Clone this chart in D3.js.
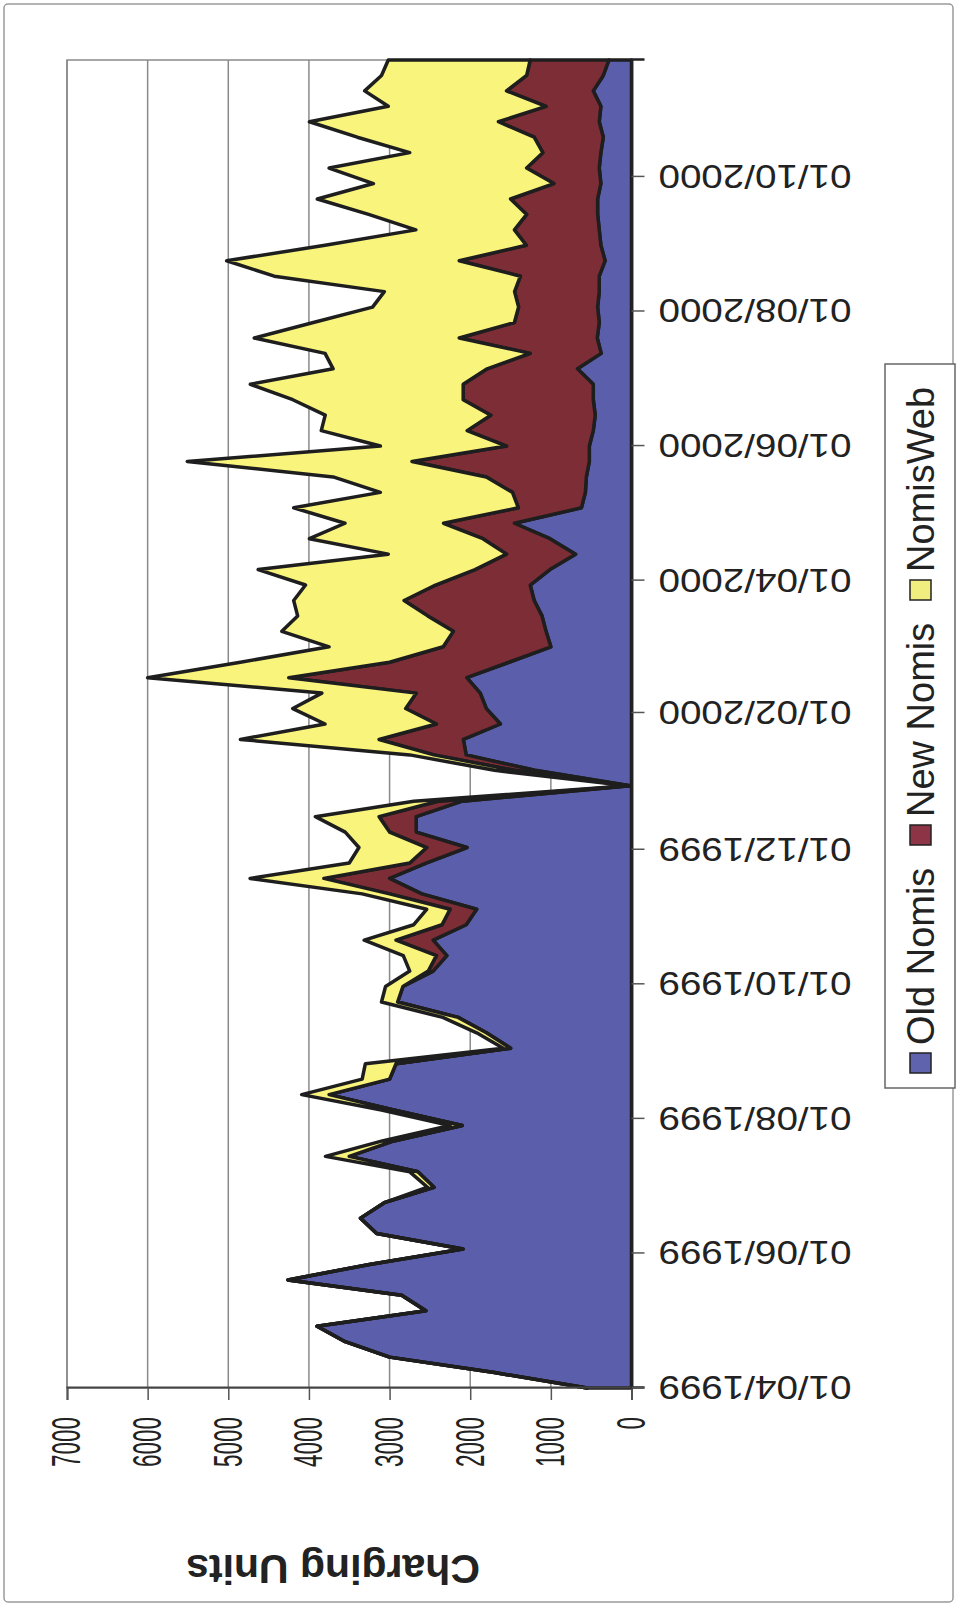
<!DOCTYPE html>
<html><head><meta charset="utf-8">
<script src="https://cdn.jsdelivr.net/npm/d3@7/dist/d3.min.js"></script>
<style>body{margin:0;background:#fff}svg{display:block}</style>
</head><body>
<svg id="c" width="960" height="1611"></svg>
<script>
// ---- data (weekly) ----
const dates = [
"1999-04-01","1999-04-08","1999-04-15","1999-04-22","1999-04-29","1999-05-06","1999-05-13","1999-05-20","1999-05-27","1999-06-03",
"1999-06-10","1999-06-17","1999-06-24","1999-07-01","1999-07-08","1999-07-15","1999-07-22","1999-07-29","1999-08-05","1999-08-12",
"1999-08-19","1999-08-26","1999-09-02","1999-09-09","1999-09-16","1999-09-23","1999-09-30","1999-10-07","1999-10-14","1999-10-21",
"1999-10-28","1999-11-04","1999-11-11","1999-11-18","1999-11-25","1999-12-02","1999-12-09","1999-12-16","1999-12-23","1999-12-30",
"2000-01-06","2000-01-13","2000-01-20","2000-01-27","2000-02-03","2000-02-10","2000-02-17","2000-02-24","2000-03-02","2000-03-09",
"2000-03-16","2000-03-23","2000-03-30","2000-04-06","2000-04-13","2000-04-20","2000-04-27","2000-05-04","2000-05-11","2000-05-18",
"2000-05-25","2000-06-01","2000-06-08","2000-06-15","2000-06-22","2000-06-29","2000-07-06","2000-07-13","2000-07-20","2000-07-27",
"2000-08-03","2000-08-10","2000-08-17","2000-08-24","2000-08-31","2000-09-07","2000-09-14","2000-09-21","2000-09-28","2000-10-05",
"2000-10-12","2000-10-19","2000-10-26","2000-11-02","2000-11-09","2000-11-16","2000-11-23"];
const oldNomis = [
550,1700,3000,3550,3900,2550,2850,4260,3250,2090,
3160,3360,3065,2450,2650,3500,2950,2100,2950,3750,
3000,2920,1500,1800,2150,2900,2835,2460,2290,2460,
2050,1920,2600,3000,2540,2040,2670,2670,2100,20,
1200,2050,2085,1626,1800,1876,2043,1520,1000,1060,
1110,1207,1256,1012,694,1012,1452,621,572,560,
523,523,474,450,474,474,670,376,425,400,
420,400,400,327,380,400,420,420,380,400,
380,350,400,380,474,350,280];
const newNomis = [
0,0,0,0,0,0,0,0,0,0,
0,0,0,0,0,0,0,0,0,0,
0,0,0,0,0,0,0,60,130,460,
300,330,400,815,210,500,330,460,300,10,
250,400,1045,794,1000,794,2207,1480,1335,1150,
1417,1613,1174,928,856,831,879,782,904,1240,
2199,1027,1564,1295,1613,1613,1120,880,1711,1052,
980,1050,978,1809,925,1052,880,1080,583,900,
720,857,1250,680,1076,950,976];
const nomisWeb = [
0,0,0,0,0,0,0,0,0,0,
0,0,0,80,100,295,140,150,150,340,
340,380,90,120,190,200,215,230,410,395,
350,290,340,915,750,840,550,790,300,15,
250,300,1720,1380,1400,1170,1750,1850,1415,2126,
1613,1369,1612,2689,1466,2151,1222,2786,1638,1900,
2787,1564,1809,2053,2113,2640,1910,2544,2542,2493,
1811,1615,3052,2884,2495,1222,1960,2396,2237,2450,
1650,2193,2344,1956,1759,1800,1760];
const seriesNames = ["Old Nomis","New Nomis","NomisWeb"];
const seriesColors = ["#5b5fab","#7d2d36","#f9f47c"];
const legendColors = ["#5f63ad","#8e3447","#f1ee80"];
const valueTicks = [0,1000,2000,3000,4000,5000,6000,7000];
const dateTicks = ["1999-04-01","1999-06-01","1999-08-01","1999-10-01","1999-12-01","2000-02-01","2000-04-01","2000-06-01","2000-08-01","2000-10-01"];
const yTitle = "Charging Units";

// ---- drawing (chart drawn in landscape, then rotated a quarter turn) ----
const parse = d3.timeParse("%Y-%m-%d");
const rows = dates.map((d,i)=>({date:parse(d), "Old Nomis":oldNomis[i], "New Nomis":newNomis[i], "NomisWeb":nomisWeb[i]}));
const svg = d3.select("#c");
svg.append("rect").attr("width",960).attr("height",1611).attr("fill","#fff");
const g = svg.append("g").attr("transform","translate(0,1611) rotate(-90)");
const font = "'Liberation Sans', Arial, sans-serif";

// outer frame
g.append("rect").attr("x",9).attr("y",4).attr("width",1598).attr("height",949)
 .attr("rx",4).attr("fill","#fff").attr("stroke","#9a9a9a").attr("stroke-width",1.5);

const L=223, R=1551, T=67, B=631.5;
const x = d3.scaleTime().domain([rows[0].date, rows[rows.length-1].date]).range([L,R]);
const y = d3.scaleLinear().domain([0,7000]).range([B,T]);

// plot area + gridlines
g.append("rect").attr("x",L).attr("y",T).attr("width",R-L).attr("height",B-T)
 .attr("fill","#fff").attr("stroke","#8a8a8a").attr("stroke-width",1.5);
g.append("g").selectAll("line").data(valueTicks.filter(v=>v>0)).join("line")
 .attr("x1",L).attr("x2",R).attr("y1",d=>y(d)).attr("y2",d=>y(d))
 .attr("stroke","#8a8a8a").attr("stroke-width",1.5);

// stacked areas
const stack = d3.stack().keys(seriesNames)(rows);
const area = d3.area().x(d=>x(d.data.date)).y0(d=>y(d[0])).y1(d=>y(d[1]));
g.append("g").selectAll("path").data(stack).join("path")
 .attr("d",area).attr("fill",(d,i)=>seriesColors[i])
 .attr("stroke","#1e1e1e").attr("stroke-width",3.5).attr("stroke-linejoin","round");

// value axis
const ya = g.append("g").attr("transform",`translate(${L},0)`)
 .call(d3.axisLeft(y).tickValues(valueTicks).tickSize(12).tickPadding(17).tickFormat(d3.format("d")));
ya.select(".domain").attr("stroke","#444").attr("stroke-width",2);
ya.selectAll(".tick line").attr("stroke","#555").attr("stroke-width",1.5);
ya.selectAll(".tick text").attr("font-family",font).attr("font-size",40).attr("fill","#222")
 .attr("textLength",d=>String(d).length*12.5).attr("lengthAdjust","spacingAndGlyphs");

// date axis
const xa = g.append("g").attr("transform",`translate(0,${B})`)
 .call(d3.axisBottom(x).tickValues(dateTicks.map(parse)).tickSize(13).tickFormat(d3.timeFormat("%d/%m/%Y")));
xa.select(".domain").attr("stroke","#222").attr("stroke-width",2.5);
xa.selectAll(".tick line").attr("stroke","#555").attr("stroke-width",1.5);
xa.selectAll(".tick text").attr("font-family",font).attr("font-size",33).attr("fill","#222")
 .attr("text-anchor","end").attr("dy","0.35em").attr("y",0).attr("x",0)
 .attr("transform","translate(0,27) rotate(-90)")
 .attr("textLength",193).attr("lengthAdjust","spacingAndGlyphs");

// y title
g.append("text").attr("transform","translate(42,333) rotate(-90)")
 .attr("text-anchor","middle").attr("dy","0.35em")
 .attr("font-family",font).attr("font-weight","bold").attr("font-size",41).attr("fill","#222")
 .text(yTitle);

// legend
const lg = g.append("g");
lg.append("rect").attr("x",523).attr("y",885).attr("width",724).attr("height",70)
 .attr("fill","#fff").attr("stroke","#666").attr("stroke-width",1.5);
const legPos = [538,766,1011];
seriesNames.forEach((n,i)=>{
  lg.append("rect").attr("x",legPos[i]).attr("y",910).attr("width",20).attr("height",21)
    .attr("fill",legendColors[i]).attr("stroke","#222").attr("stroke-width",1.5);
  lg.append("text").attr("x",legPos[i]+28).attr("y",921).attr("dy","0.35em")
    .attr("font-family",font).attr("font-size",38).attr("fill","#222").text(n);
});
</script>
</body></html>
